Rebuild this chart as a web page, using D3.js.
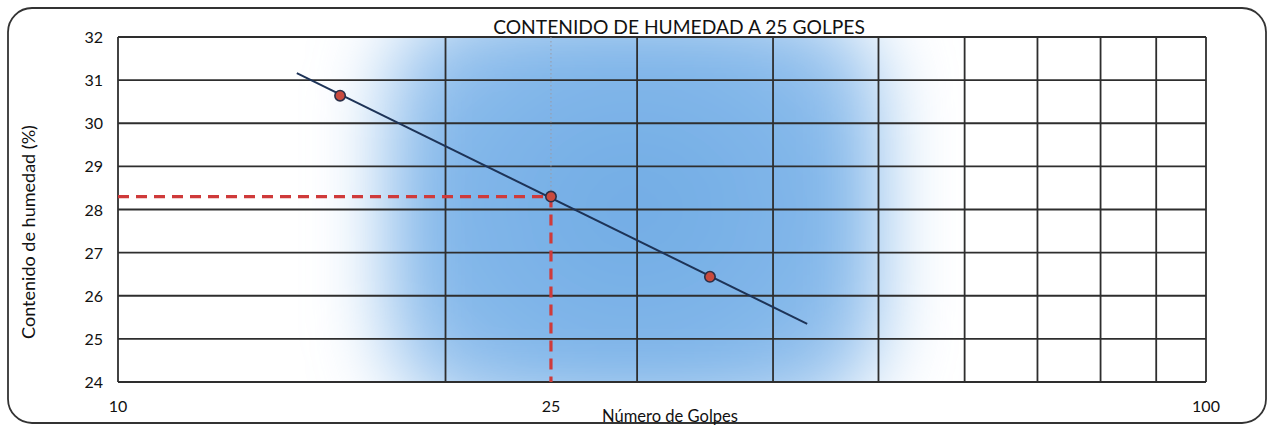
<!DOCTYPE html>
<html>
<head>
<meta charset="utf-8">
<script src="https://cdn.jsdelivr.net/npm/d3@7/dist/d3.min.js"></script>
<style>
  html, body { margin: 0; padding: 0; background: #fff; }
  svg { display: block; }
  text { font-family: Lato, "Open Sans", sans-serif; fill: #111; }
</style>
</head>
<body>
<svg id="chart" width="1267" height="425"></svg>
<script>
// Ensayo de límite líquido: contenido de humedad vs. número de golpes
const golpes = [16, 25, 35];
const humedad = [30.64, 28.3, 26.44];

// Recta de ajuste (escala semilogarítmica)
const tendenciaGolpes = [14.6, 43];
const tendenciaHumedad = [31.16, 25.35];

// Lectura a 25 golpes
const golpesRef = 25;
const humedadRef = 28.3;

const xGrid = [10, 20, 30, 40, 50, 60, 70, 80, 90, 100];
const xTickLabels = [10, 25, 100];
const yTicks = [24, 25, 26, 27, 28, 29, 30, 31, 32];

const titulo = "CONTENIDO DE HUMEDAD A 25 GOLPES";
const tituloX = "Número de Golpes";
const tituloY = "Contenido de humedad (%)";

const plot = { left: 118, right: 1206, top: 37, bottom: 382 };

const svg = d3.select("#chart");

const x = d3.scaleLog().domain([10, 100]).range([plot.left, plot.right]);
const y = d3.scaleLinear().domain([24, 32]).range([plot.bottom, plot.top]);

// Marco exterior redondeado
svg.append("rect")
  .attr("x", 8).attr("y", 8)
  .attr("width", 1258).attr("height", 415)
  .attr("rx", 24).attr("ry", 24)
  .attr("fill", "#fff")
  .attr("stroke", "#333").attr("stroke-width", 1.8);

const defs = svg.append("defs");
defs.append("clipPath").attr("id", "clipPlot")
  .append("rect")
  .attr("x", plot.left).attr("y", plot.top)
  .attr("width", plot.right - plot.left).attr("height", plot.bottom - plot.top);

const blur = defs.append("filter").attr("id", "soft")
  .attr("x", "-50%").attr("y", "-50%").attr("width", "200%").attr("height", "200%");
blur.append("feGaussianBlur").attr("stdDeviation", 36);

const grad = defs.append("radialGradient").attr("id", "fondoAzul")
  .attr("cx", "50%").attr("cy", "50%").attr("r", "60%");
grad.append("stop").attr("offset", "0%").attr("stop-color", "#70abe4");
grad.append("stop").attr("offset", "70%").attr("stop-color", "#84b8ea");
grad.append("stop").attr("offset", "100%").attr("stop-color", "#a9cdf1");

// Relleno difuminado del área de trazado
svg.append("g").attr("clip-path", "url(#clipPlot)")
  .append("rect")
  .attr("x", x(17.6)).attr("y", y(32.8))
  .attr("width", x(50.5) - x(17.6)).attr("height", y(23.2) - y(32.8))
  .attr("rx", 90).attr("ry", 90)
  .attr("fill", "url(#fondoAzul)")
  .attr("filter", "url(#soft)");

const gridColor = "#2e2e2e";

// Líneas de división horizontales
svg.append("g").selectAll("line").data(yTicks).join("line")
  .attr("x1", plot.left).attr("x2", plot.right)
  .attr("y1", d => y(d)).attr("y2", d => y(d))
  .attr("stroke", gridColor).attr("stroke-width", 1.8);

// Líneas de división verticales
svg.append("g").selectAll("line").data(xGrid).join("line")
  .attr("x1", d => x(d)).attr("x2", d => x(d))
  .attr("y1", plot.top).attr("y2", plot.bottom)
  .attr("stroke", gridColor).attr("stroke-width", 1.8);

// Guía punteada a 25 golpes
svg.append("line")
  .attr("x1", x(golpesRef)).attr("x2", x(golpesRef))
  .attr("y1", plot.top).attr("y2", y(humedadRef))
  .attr("stroke", "#9a9aa6").attr("stroke-width", 1)
  .attr("stroke-dasharray", "1.5,2.5");

// Lectura del contenido de humedad a 25 golpes
const rojo = "#cf3a3a";
svg.append("line")
  .attr("x1", x(10)).attr("x2", x(golpesRef))
  .attr("y1", y(humedadRef)).attr("y2", y(humedadRef))
  .attr("stroke", rojo).attr("stroke-width", 3.2)
  .attr("stroke-dasharray", "11,7");
svg.append("line")
  .attr("x1", x(golpesRef)).attr("x2", x(golpesRef))
  .attr("y1", y(humedadRef)).attr("y2", y(24))
  .attr("stroke", rojo).attr("stroke-width", 3.2)
  .attr("stroke-dasharray", "11,7");

// Recta de tendencia
svg.append("path")
  .datum(tendenciaGolpes.map((g, i) => [g, tendenciaHumedad[i]]))
  .attr("d", d3.line().x(d => x(d[0])).y(d => y(d[1])))
  .attr("fill", "none")
  .attr("stroke", "#1d3357").attr("stroke-width", 2);

// Puntos del ensayo
svg.append("g").selectAll("circle")
  .data(golpes.map((g, i) => [g, humedad[i]])).join("circle")
  .attr("cx", d => x(d[0])).attr("cy", d => y(d[1]))
  .attr("r", 5.2)
  .attr("fill", "#c94a3e")
  .attr("stroke", "#2a2f48").attr("stroke-width", 1.6);

// Etiquetas del eje Y
svg.append("g").selectAll("text").data(yTicks).join("text")
  .attr("x", 103).attr("y", d => y(d) + 6)
  .attr("text-anchor", "end")
  .attr("font-size", 16)
  .text(d => d);

// Etiquetas del eje X
svg.append("g").selectAll("text").data(xTickLabels).join("text")
  .attr("x", d => x(d)).attr("y", 412)
  .attr("text-anchor", "middle")
  .attr("font-size", 16)
  .text(d => d);

function fitWidth(sel, width, base) {
  const w = sel.node().getComputedTextLength();
  sel.attr("font-size", base * width / w);
}

// Título
const t = svg.append("text")
  .attr("x", 679).attr("y", 34)
  .attr("text-anchor", "middle")
  .attr("font-size", 18)
  .text(titulo);
fitWidth(t, 372, 18);

// Título del eje X
const tx = svg.append("text")
  .attr("x", 670).attr("y", 422)
  .attr("text-anchor", "middle")
  .attr("font-size", 14)
  .text(tituloX);
fitWidth(tx, 136, 14);

// Título del eje Y
const ty = svg.append("text")
  .attr("transform", "translate(35,232) rotate(-90)")
  .attr("text-anchor", "middle")
  .attr("font-size", 14)
  .text(tituloY);
fitWidth(ty, 214, 14);
</script>
</body>
</html>
